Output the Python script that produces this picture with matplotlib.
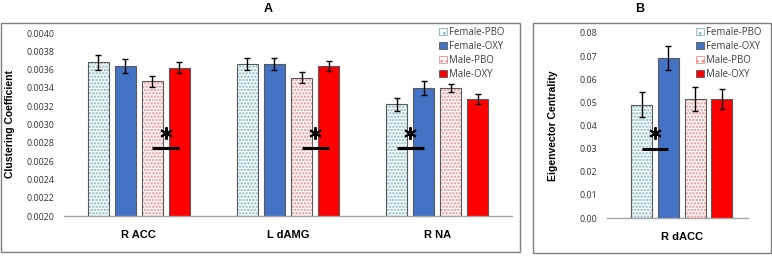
import numpy as np
import matplotlib.pyplot as plt
from matplotlib.patches import Patch, Rectangle

plt.rcParams['font.family'] = ['Open Sans', 'DejaVu Sans']
plt.rcParams['hatch.linewidth'] = 1.2
BOLD = ['Liberation Sans', 'DejaVu Sans']

### data
groups = ['Female-PBO', 'Female-OXY', 'Male-PBO', 'Male-OXY']
regions_a = ['R ACC', 'L dAMG', 'R NA']
cc_mean = {
    'Female-PBO': [0.00368, 0.00366, 0.00322],
    'Female-OXY': [0.00364, 0.00366, 0.00340],
    'Male-PBO':   [0.00347, 0.00351, 0.00340],
    'Male-OXY':   [0.00362, 0.00364, 0.00328],
}
cc_err = {
    'Female-PBO': [0.000080, 0.000063, 0.000070],
    'Female-OXY': [0.000072, 0.000063, 0.000080],
    'Male-PBO':   [0.000062, 0.000060, 0.000047],
    'Male-OXY':   [0.000062, 0.000057, 0.000051],
}
# significance: (region index, bar i, bar j, y of line)
sig_a = [(0, 2, 3, 0.00274), (1, 2, 3, 0.00274), (2, 0, 1, 0.00274)]

regions_b = ['R dACC']
ec_mean = {'Female-PBO': [0.049], 'Female-OXY': [0.069], 'Male-PBO': [0.0515], 'Male-OXY': [0.0515]}
ec_err = {'Female-PBO': [0.0053], 'Female-OXY': [0.0052], 'Male-PBO': [0.0053], 'Male-OXY': [0.0045]}
sig_b = [(0, 0, 1, 0.030)]

### styles
style = {
    'Female-PBO': dict(face='white', hatch='.....', hcol='#7fb4cc'),
    'Female-OXY': dict(face='#4472C4', hatch=None, hcol=None),
    'Male-PBO':   dict(face='white', hatch='.....', hcol='#ee8c8c'),
    'Male-OXY':   dict(face='#FF0000', hatch=None, hcol=None),
}
edge = '#595959'


def draw_bars(ax, regions, means, errs, sigs, width, step, ystar_off):
    x = np.arange(len(regions))
    for k, g in enumerate(groups):
        xs = x + (k - 1.5) * step
        st = style[g]
        if st['hatch']:
            ax.bar(xs, means[g], width, color='white', hatch=st['hatch'],
                   edgecolor=st['hcol'], linewidth=0, zorder=2)
        else:
            ax.bar(xs, means[g], width, color=st['face'], linewidth=0, zorder=2)
        ax.bar(xs, means[g], width, fill=False, edgecolor=edge, linewidth=0.8, zorder=3)
        ax.errorbar(xs, means[g], yerr=errs[g], fmt='none', ecolor='black',
                    elinewidth=1, capsize=2.5, capthick=1, zorder=4)
    for r, i, j, yl in sigs:
        x1 = r + (i - 1.5) * step
        x2 = r + (j - 1.5) * step
        ax.plot([x1, x2], [yl, yl], color='black', lw=2.2, solid_capstyle='butt', zorder=5)
        ax.plot([(x1 + x2) / 2], [yl + ystar_off], marker=(6, 2, 0), ms=9, mew=1.4,
                color='black', zorder=5)
    ax.set_xticks(x)
    ax.set_xticklabels(regions, fontsize=8, fontweight='bold', family=BOLD)
    for s in ['top', 'right', 'left']:
        ax.spines[s].set_visible(False)
    ax.spines['bottom'].set_color('#a6a6a6')
    ax.spines['bottom'].set_linewidth(1)
    ax.tick_params(axis='both', length=0)
    ax.tick_params(axis='x', pad=10)
    ax.tick_params(axis='y', labelsize=6.4, pad=7, labelcolor='#333333')


def add_legend(ax, x, y):
    handles = []
    for g in groups:
        st = style[g]
        if st['hatch']:
            handles.append(Patch(facecolor='white', edgecolor=st['hcol'], hatch='...', linewidth=0.6))
        else:
            handles.append(Patch(facecolor=st['face'], edgecolor=edge, linewidth=0.6))
    ax.legend(handles, groups, loc='upper left', bbox_to_anchor=(x, y),
              bbox_transform=fig.transFigure, frameon=False, fontsize=6.9,
              handlelength=0.8, handleheight=0.8, handletextpad=0.2,
              labelspacing=0.3, borderpad=0, borderaxespad=0, labelcolor='#404040')


fig = plt.figure(figsize=(7.72, 2.57), dpi=100)

# frames
fig.patches.append(Rectangle((1 / 772, 5 / 257), 519 / 772, 229 / 257, transform=fig.transFigure,
                             fill=False, edgecolor='#7f7f7f', lw=1))
fig.patches.append(Rectangle((533 / 772, 4 / 257), 238 / 772, 230 / 257, transform=fig.transFigure,
                             fill=False, edgecolor='#7f7f7f', lw=1))

axA = fig.add_axes([64 / 772, 41 / 257, 448 / 772, 183 / 257])
draw_bars(axA, regions_a, cc_mean, cc_err, sig_a, 0.141, 0.181, 0.00017)
axA.set_xlim(-0.5, 2.5)
axA.set_ylim(0.0020, 0.0040)
axA.set_yticks(np.arange(0.0020, 0.00401, 0.0002))
axA.yaxis.set_major_formatter(plt.FormatStrFormatter('%.4f'))
axA.set_ylabel('Clustering Coefficient', fontsize=7.5, fontweight='bold', family=BOLD)
axA.yaxis.set_label_coords(-0.109, 0.5)
add_legend(axA, 439 / 772, 1 - 27 / 257)

axB = fig.add_axes([607 / 772, 39 / 257, 141 / 772, 185 / 257])
draw_bars(axB, regions_b, ec_mean, ec_err, sig_b, 0.149, 0.19, 0.0066)
axB.set_xlim(-0.53, 0.47)
axB.set_ylim(0, 0.08)
axB.set_yticks(np.arange(0, 0.0801, 0.01))
axB.yaxis.set_major_formatter(plt.FormatStrFormatter('%.2f'))
axB.set_ylabel('Eigenvector Centrality', fontsize=7.5, fontweight='bold', family=BOLD)
axB.yaxis.set_label_coords(-0.35, 0.5)
add_legend(axB, 696 / 772, 1 - 27 / 257)

fig.text(268 / 772, 1 - 9 / 257, 'A', fontsize=9, fontweight='bold', family=BOLD, ha='center', va='center')
fig.text(640 / 772, 1 - 9 / 257, 'B', fontsize=9, fontweight='bold', family=BOLD, ha='center', va='center')

fig.savefig('out.png', dpi=100)
